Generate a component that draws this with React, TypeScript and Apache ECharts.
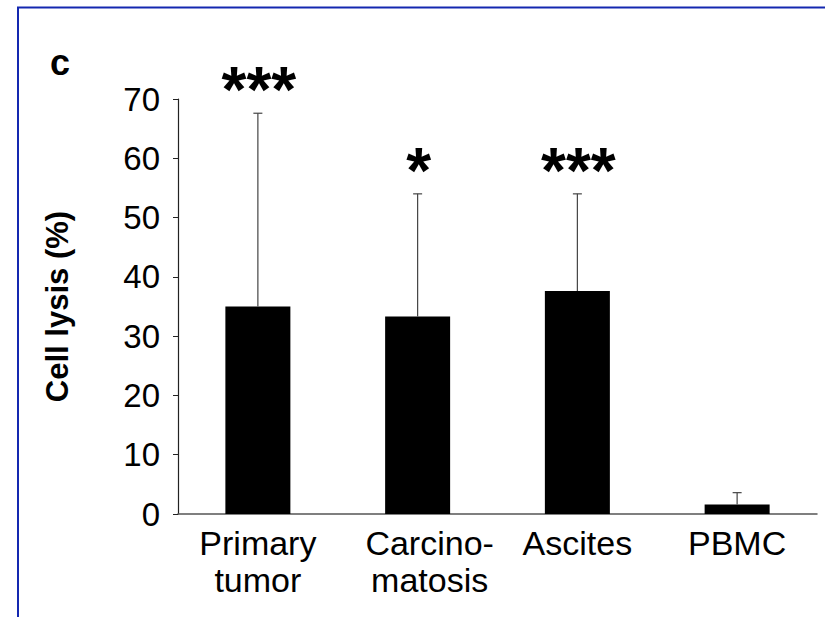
import React, { useEffect, useRef } from "react";
import * as echarts from "echarts";

const categories = ["Primary\ntumor", "Carcino-\nmatosis", "Ascites", "PBMC"];
const meanValues = [35.0, 33.3, 37.6, 1.6];
const errorValues = [32.6, 20.7, 16.4, 2.0];
const significance = ["***", "*", "***", ""];
const yMin = 0;
const yMax = 70;
const yInterval = 10;
const panelLabel = "c";
const yAxisTitle = "Cell lysis (%)";

const FONT = "'Liberation Sans', Arial, Helvetica, sans-serif";

export default function App() {
  const ref = useRef<HTMLDivElement>(null);
  useEffect(() => {
    if (!ref.current) return;
    const chart = echarts.init(ref.current, undefined, { renderer: "svg" });
    const errData = categories.map((_, i) => [i, meanValues[i], errorValues[i]]);
    chart.setOption({
      animation: false,
      backgroundColor: "#ffffff",
      grid: { left: 178, right: 8, top: 99, bottom: 103, containLabel: false },
      graphic: [
        {
          type: "rect",
          z: -10,
          shape: { x: 18, y: 7.5, width: 900, height: 700 },
          style: { fill: "none", stroke: "#1428b0", lineWidth: 2 },
        },
        {
          type: "text",
          x: 50,
          y: 44,
          style: {
            text: panelLabel,
            font: `bold 36px ${FONT}`,
            fill: "#000",
            verticalAlign: "top",
            align: "left",
          },
        },
      ],
      xAxis: {
        type: "category",
        data: categories,
        axisLine: { show: true, lineStyle: { color: "#555", width: 1.5 } },
        axisTick: { show: false },
        axisLabel: {
          color: "#000",
          fontFamily: FONT,
          fontSize: 34,
          lineHeight: 37,
          margin: 10,
          interval: 0,
          formatter: (v: string, i: number) =>
            i === 1 ? `{shift|${v}}` : v,
          rich: {
            shift: {
              color: "#000",
              fontFamily: FONT,
              fontSize: 34,
              lineHeight: 37,
              padding: [0, 0, 0, 24],
            },
          },
        },
      },
      yAxis: {
        type: "value",
        min: yMin,
        max: yMax,
        interval: yInterval,
        name: yAxisTitle,
        nameLocation: "middle",
        nameGap: 105,
        nameRotate: 90,
        nameTextStyle: {
          color: "#000",
          fontFamily: FONT,
          fontSize: 31,
          fontWeight: "bold",
        },
        splitLine: { show: false },
        axisLine: { show: true, lineStyle: { color: "#222", width: 1.2 } },
        axisTick: { show: true, length: 5, lineStyle: { color: "#222", width: 1 } },
        axisLabel: {
          color: "#000",
          fontFamily: FONT,
          fontSize: 33,
          margin: 18,
        },
      },
      series: [
        {
          type: "bar",
          data: meanValues,
          barWidth: 65,
          itemStyle: { color: "#000" },
          z: 2,
        },
        {
          type: "custom",
          z: 3,
          data: errData,
          renderItem: (params: any, api: any) => {
            const i = api.value(0);
            const mean = api.value(1);
            const err = api.value(2);
            const base = api.coord([i, mean]);
            const top = api.coord([i, mean + err]);
            const stroke = { stroke: "#444", lineWidth: 1.2 };
            const children: any[] = [
              {
                type: "line",
                shape: { x1: base[0], y1: base[1], x2: top[0], y2: top[1] },
                style: stroke,
              },
              {
                type: "line",
                shape: { x1: top[0] - 4.5, y1: top[1], x2: top[0] + 4.5, y2: top[1] },
                style: stroke,
              },
            ];
            const sig = significance[params.dataIndex];
            if (sig) {
              children.push({
                type: "text",
                x: top[0] + 1,
                y: top[1] - 23,
                style: {
                  text: sig,
                  font: `bold 64px ${FONT}`,
                  fill: "#000",
                  align: "center",
                  verticalAlign: "middle",
                },
              });
            }
            return { type: "group", children };
          },
        },
      ],
    });
    return () => chart.dispose();
  }, []);
  return (
    <div
      ref={ref}
      style={{ position: "fixed", left: 0, top: 0, width: 825, height: 617 }}
    />
  );
}
